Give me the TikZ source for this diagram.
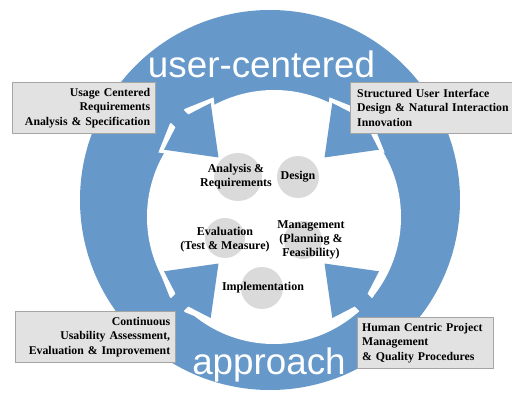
\documentclass[tikz,border=0pt]{standalone}
\usepackage{fontspec}
\setmainfont{Liberation Serif}
\newfontfamily\ringfont{Liberation Sans}

\definecolor{ringblue}{RGB}{102,152,202}
\definecolor{dotgray}{RGB}{218,218,218}
\definecolor{boxgray}{RGB}{226,226,226}
\definecolor{boxline}{RGB}{165,165,165}

\tikzset{
  phase/.style={circle,fill=dotgray,inner sep=0pt},
  phaselabel/.style={align=center,font=\bfseries\fontsize{12}{14}\selectfont,inner sep=0pt},
  infobox/.style={draw=boxline,fill=boxgray,font=\bfseries\fontsize{11.8}{14.5}\selectfont,
    inner ysep=5pt,minimum height=51pt},
  ringtext/.style={text=white,font=\ringfont\fontsize{36.8}{40}\selectfont,inner sep=0pt},
}

\begin{document}
\begin{tikzpicture}[x=1pt,y=-1pt]
  \fill[white] (0,0) rectangle (512,396);
  \useasboundingbox (0,0) rectangle (512,396);

  % the ring
  \fill[ringblue] (270,200) circle[radius=190pt];
  \fill[white] (274,217) circle[radius=127pt];

  % four heads pointing in (u outward, v across)
  \foreach \ang in {45,135,225,315}{
    \begin{scope}[shift={(271.5,210.5)},rotate=\ang]
      \fill[white] (70,0) -- (121,39) -- (133,11) -- (133,-11) -- (121,-39) -- cycle;
      \fill[ringblue] (75,0) -- (119,33) -- (127,8) -- (127,-8) -- (119,-33) -- cycle;
      \fill[ringblue] (124,-9) -- (150,-9) -- (150,9) -- (124,9) -- cycle;
    \end{scope}
  }

  \node[ringtext,anchor=base] (top) at (261.5,78) {user-centered};
  \node[ringtext,anchor=base] (bottom) at (269,374) {approach};

  % phases
  \node[phase,minimum size=48pt] (anaDot) at (238,177) {};
  \node[phase,minimum size=42pt] (desDot) at (298,177) {};
  \node[phase,minimum size=40pt] (evaDot) at (225,238) {};
  \node[phase,minimum size=38pt] (manDot) at (303,240) {};
  \node[phase,minimum size=42pt] (impDot) at (262,288) {};

  \node[phaselabel] (ana) at (236,176.5) {Analysis \&\\Requirements};
  \node[phaselabel] (des) at (298,177) {Design};
  \node[phaselabel] (eva) at (225,239.5) {Evaluation\\(Test \& Measure)};
  \node[phaselabel] (man) at (311,239.5) {Management\\(Planning \&\\Feasibility)};
  \node[phaselabel] (imp) at (263,288) {Implementation};

  % boxes
  \node[infobox,anchor=north west,text width=133pt,align=right,inner xsep=5pt] (usage) at (12,82)
    {Usage Centered\\Requirements\\Analysis \& Specification};
  \node[infobox,anchor=north west,text width=160pt,align=left,inner xsep=7pt] (struct) at (350,82)
    {Structured User Interface\\Design \& Natural Interaction\\Innovation};
  \node[infobox,anchor=north west,text width=150pt,align=right,inner xsep=5pt] (contin) at (15,311)
    {Continuous\\Usability Assessment,\\Evaluation \& Improvement};
  \node[infobox,anchor=north west,text width=126pt,align=left,inner xsep=5pt] (human) at (357,317)
    {Human Centric Project\\Management\\\& Quality Procedures};
\end{tikzpicture}
\end{document}
